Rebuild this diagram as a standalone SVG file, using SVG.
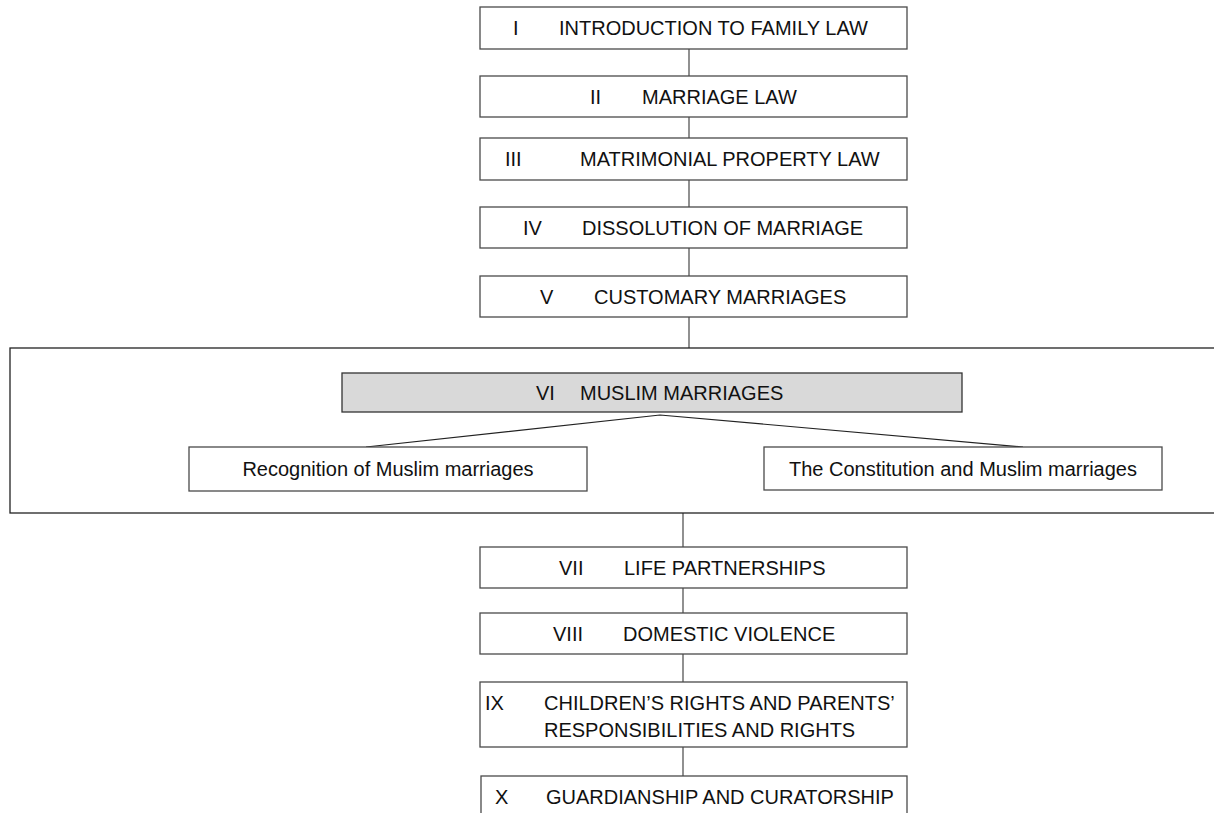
<svg xmlns="http://www.w3.org/2000/svg" width="1214" height="813" viewBox="0 0 1214 813">
  <style>
    .box { fill: #ffffff; stroke: #4a4a4a; stroke-width: 1.3; }
    .hl { fill: #d9d9d9; stroke: #333333; stroke-width: 1.3; }
    .frame { fill: none; stroke: #222222; stroke-width: 1.3; }
    .link { fill: none; stroke: #555555; stroke-width: 1.3; }
    .branch { fill: none; stroke: #222222; stroke-width: 1.2; }
    text { font-family: "Liberation Sans", Arial, sans-serif; font-size: 20px; fill: #111111; }
    .mid { text-anchor: middle; }
  </style>

  <rect width="1214" height="813" fill="#ffffff"/>

  <!-- connectors -->
  <g id="connectors">
    <line class="link" x1="689" y1="49" x2="689" y2="76"/>
    <line class="link" x1="689" y1="117" x2="689" y2="138"/>
    <line class="link" x1="689" y1="180" x2="689" y2="207"/>
    <line class="link" x1="689" y1="248" x2="689" y2="276"/>
    <line class="link" x1="689" y1="317" x2="689" y2="348"/>
    <polyline class="branch" points="366,447 660,415 1023,447"/>
    <line class="link" x1="683" y1="513" x2="683" y2="547"/>
    <line class="link" x1="683" y1="588" x2="683" y2="613"/>
    <line class="link" x1="683" y1="654" x2="683" y2="682"/>
    <line class="link" x1="683" y1="747" x2="683" y2="776"/>
  </g>

  <g id="n1">
    <rect class="box" x="480" y="7" width="427" height="42"/>
    <text x="513" y="35">I</text>
    <text x="559" y="35">INTRODUCTION TO FAMILY LAW</text>
  </g>
  <g id="n2">
    <rect class="box" x="480" y="76" width="427" height="41"/>
    <text x="590" y="104">II</text>
    <text x="642" y="104">MARRIAGE LAW</text>
  </g>
  <g id="n3">
    <rect class="box" x="480" y="138" width="427" height="42"/>
    <text x="505" y="166">III</text>
    <text x="580" y="166">MATRIMONIAL PROPERTY LAW</text>
  </g>
  <g id="n4">
    <rect class="box" x="480" y="207" width="427" height="41"/>
    <text x="523" y="235">IV</text>
    <text x="582" y="235">DISSOLUTION OF MARRIAGE</text>
  </g>
  <g id="n5">
    <rect class="box" x="480" y="276" width="427" height="41"/>
    <text x="540" y="304">V</text>
    <text x="594" y="304">CUSTOMARY MARRIAGES</text>
  </g>

  <!-- chapter VI with its two topics -->
  <g id="n6-frame">
    <rect class="frame" x="10" y="348" width="1212" height="165"/>
  </g>
  <g id="n6">
    <rect class="hl" x="342" y="373" width="620" height="39"/>
    <text x="536" y="400">VI</text>
    <text x="580" y="400">MUSLIM MARRIAGES</text>
  </g>
  <g id="n6a">
    <rect class="box" x="189" y="447" width="398" height="44"/>
    <text class="mid" x="388" y="476">Recognition of Muslim marriages</text>
  </g>
  <g id="n6b">
    <rect class="box" x="764" y="447" width="398" height="43"/>
    <text class="mid" x="963" y="476">The Constitution and Muslim marriages</text>
  </g>

  <g id="n7">
    <rect class="box" x="480" y="547" width="427" height="41"/>
    <text x="559" y="575">VII</text>
    <text x="624" y="575">LIFE PARTNERSHIPS</text>
  </g>
  <g id="n8">
    <rect class="box" x="480" y="613" width="427" height="41"/>
    <text x="553" y="641">VIII</text>
    <text x="623" y="641">DOMESTIC VIOLENCE</text>
  </g>
  <g id="n9">
    <rect class="box" x="480" y="682" width="427" height="65"/>
    <text x="485" y="710">IX</text>
    <text x="544" y="710">CHILDREN’S RIGHTS AND PARENTS’</text>
    <text x="544" y="737">RESPONSIBILITIES AND RIGHTS</text>
  </g>
  <g id="n10">
    <rect class="box" x="481" y="776" width="426" height="41"/>
    <text x="495" y="804">X</text>
    <text x="546" y="804">GUARDIANSHIP AND CURATORSHIP</text>
  </g>
</svg>
